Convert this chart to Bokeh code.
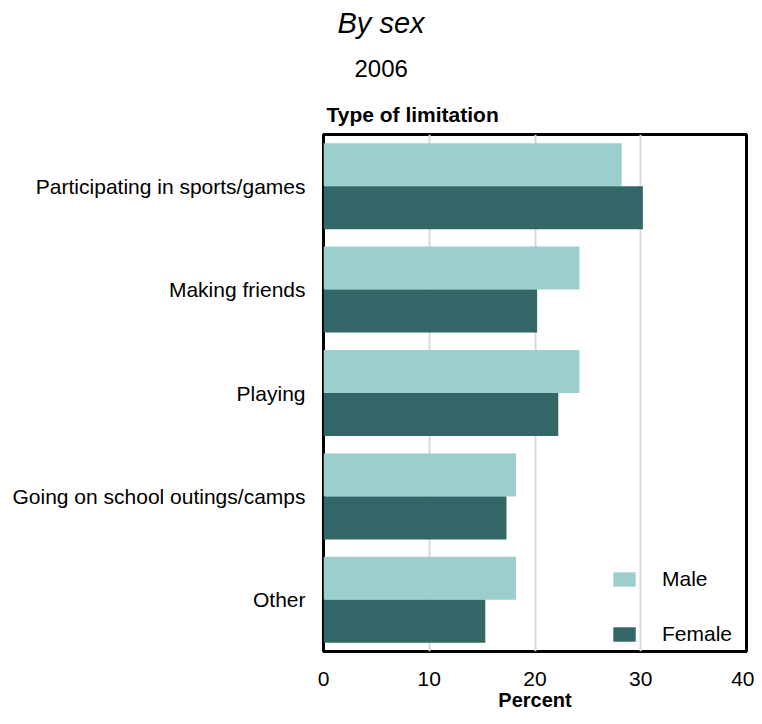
from bokeh.plotting import figure
from bokeh.models import FactorRange, Range1d, Legend, LegendItem, FixedTicker, Title
from bokeh.transform import dodge
from bokeh.models import ColumnDataSource
from bokeh.embed import file_html
from bokeh.resources import INLINE

categories = ["Participating in sports/games", "Making friends", "Playing",
              "Going on school outings/camps", "Other"]
male = [28.2, 24.2, 24.2, 18.2, 18.2]
female = [30.2, 20.2, 22.2, 17.3, 15.3]
x_ticks = [0, 10, 20, 30, 40]

FONT = "Liberation Sans"
MALE_C = "#9CCECE"
FEMALE_C = "#336666"

src = ColumnDataSource(dict(cat=categories, male=male, female=female))

p = figure(width=754, height=716, output_backend="svg", toolbar_location=None,
           y_range=FactorRange(factors=list(reversed(categories)), range_padding=0),
           x_range=Range1d(0, 40),
           min_border_left=323, min_border_right=8, min_border_top=134, min_border_bottom=65)
p.title = None

rm = p.hbar(y=dodge("cat", 0.208, range=p.y_range), right="male", left=0, height=0.416,
            source=src, fill_color=MALE_C, line_color=None)
rf = p.hbar(y=dodge("cat", -0.208, range=p.y_range), right="female", left=0, height=0.416,
            source=src, fill_color=FEMALE_C, line_color=None)

p.outline_line_color = "black"
p.outline_line_width = 3
p.background_fill_color = "white"
p.border_fill_color = "white"

p.ygrid.grid_line_color = None
p.xgrid.grid_line_color = "#d9d9d9"
p.xgrid.grid_line_width = 2
p.xaxis.ticker = FixedTicker(ticks=x_ticks)

for ax in (p.xaxis[0], p.yaxis[0]):
    ax.axis_line_color = None
    ax.major_tick_line_color = None
    ax.minor_tick_line_color = None
    ax.major_tick_out = 0
    ax.major_tick_in = 0
    ax.major_label_text_font = FONT
    ax.major_label_text_font_size = "21px"
    ax.major_label_text_color = "black"

p.xaxis.major_label_standoff = 20
p.yaxis.major_label_standoff = 18
p.xaxis.axis_label = "Percent"
p.xaxis.axis_label_standoff = 0
p.xaxis.axis_label_text_font = FONT
p.xaxis.axis_label_text_font_size = "20px"
p.xaxis.axis_label_text_font_style = "bold"
p.xaxis.axis_label_text_color = "black"

legend = Legend(items=[LegendItem(label="Male", renderers=[rm]),
                       LegendItem(label="Female", renderers=[rf])],
                location=(287, 5), padding=0, margin=0, spacing=31,
                glyph_width=28, glyph_height=18, label_height=20, label_standoff=24,
                border_line_color=None, background_fill_alpha=0,
                label_text_font=FONT, label_text_font_size="21px",
                label_text_color="black")
p.add_layout(legend)

p.add_layout(Title(text="Type of limitation", align="left", offset=3, standoff=17,
                   text_font=FONT, text_font_size="21px", text_font_style="bold",
                   text_color="black"), "above")
p.add_layout(Title(text="2006", align="left", offset=31, standoff=31,
                   text_font=FONT, text_font_size="24px", text_font_style="normal",
                   text_color="black"), "above")
p.add_layout(Title(text="By sex", align="left", offset=14, standoff=8,
                   text_font=FONT, text_font_size="29px", text_font_style="italic",
                   text_color="black"), "above")

open("out.html", "w").write(file_html(p, INLINE))
